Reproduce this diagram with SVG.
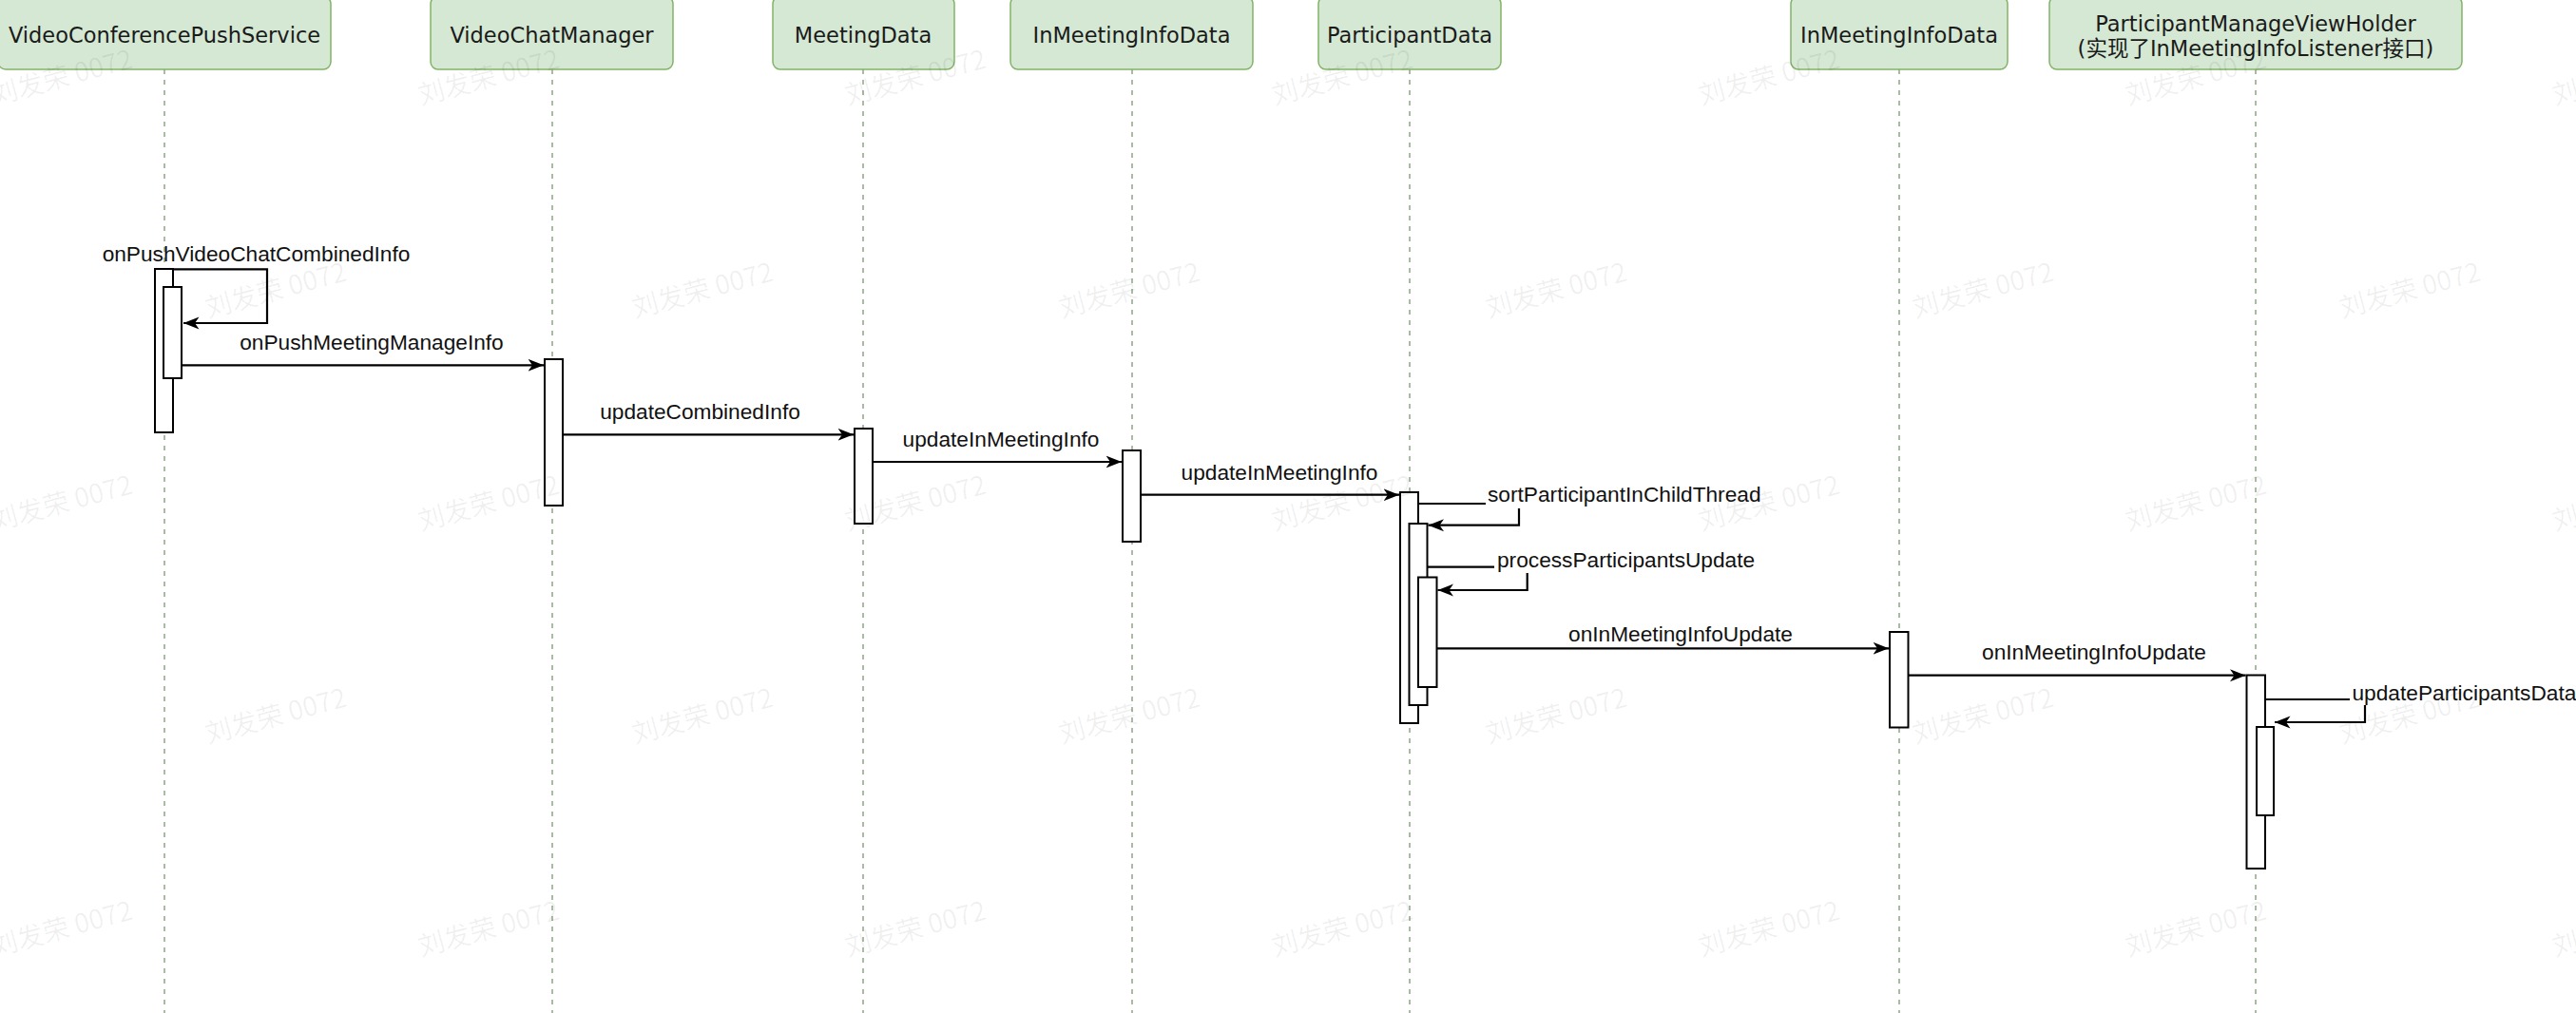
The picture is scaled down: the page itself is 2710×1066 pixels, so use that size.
<svg xmlns="http://www.w3.org/2000/svg" xmlns:xlink="http://www.w3.org/1999/xlink" width="2710" height="1066" viewBox="0 0 2710 1066">
  <style>
    .box { fill: #d5e8d4; stroke: #82b366; stroke-width: 1.5; }
    .title { font-family: "DejaVu Sans", "Noto Sans CJK SC", sans-serif; font-size: 22.5px; fill: #1a1a1a; text-anchor: middle; }
    .life { fill: none; stroke: #8fa585; stroke-width: 1.5; stroke-dasharray: 5 6; }
    .bar { fill: #ffffff; stroke: #000000; stroke-width: 2; }
    .msg { fill: none; stroke: #000000; stroke-width: 2.2; marker-end: url(#arrow); }
    .lbl { font-family: "Liberation Sans", Arial, sans-serif; font-size: 22.7px; fill: #111111; }
    .mid { text-anchor: middle; }
    .lblbg { fill: #ffffff; }
    .wm { font-family: "Noto Sans CJK SC", "Noto Sans", sans-serif; font-size: 28px; fill: #000000; fill-opacity: 0.06; text-anchor: middle; }
  </style>
  <defs>
    <marker id="arrow" markerUnits="userSpaceOnUse" markerWidth="18" markerHeight="14" refX="16.5" refY="7" orient="auto">
      <path d="M0,0.5 L16.5,7 L0,13.5 L4.5,7 Z" fill="#000000"/>
    </marker>
    <text id="wm" class="wm" x="0" y="10">刘发荣 0072</text>
  </defs>

  <rect width="2710" height="1066" fill="#ffffff"/>

  <!-- participants: header box, lifeline, activation bars -->
  <g id="videoConferencePushService">
    <line class="life" x1="173" y1="73" x2="173" y2="1066"/>
    <rect class="box" x="-2" y="-4" width="350" height="77" rx="8"/>
    <text class="title" x="173" y="45">VideoConferencePushService</text>
    <rect class="bar" x="163" y="283" width="19" height="172"/>
    <rect class="bar" x="172" y="302" width="19" height="96"/>
  </g>

  <g id="videoChatManager">
    <line class="life" x1="581" y1="73" x2="581" y2="1066"/>
    <rect class="box" x="453" y="-4" width="255" height="77" rx="8"/>
    <text class="title" x="580.5" y="45">VideoChatManager</text>
    <rect class="bar" x="573" y="378" width="19" height="154"/>
  </g>

  <g id="meetingData">
    <line class="life" x1="908" y1="73" x2="908" y2="1066"/>
    <rect class="box" x="813" y="-4" width="191" height="77" rx="8"/>
    <text class="title" x="908" y="45">MeetingData</text>
    <rect class="bar" x="899" y="451" width="19" height="100"/>
  </g>

  <g id="inMeetingInfoData">
    <line class="life" x1="1191" y1="73" x2="1191" y2="1066"/>
    <rect class="box" x="1063" y="-4" width="255" height="77" rx="8"/>
    <text class="title" x="1190.5" y="45">InMeetingInfoData</text>
    <rect class="bar" x="1181" y="474" width="19" height="96"/>
  </g>

  <g id="participantData">
    <line class="life" x1="1483" y1="73" x2="1483" y2="1066"/>
    <rect class="box" x="1387" y="-4" width="192" height="77" rx="8"/>
    <text class="title" x="1483" y="45">ParticipantData</text>
    <rect class="bar" x="1473" y="518" width="19" height="243"/>
    <rect class="bar" x="1482.5" y="551" width="19" height="191"/>
    <rect class="bar" x="1492" y="607.5" width="19.5" height="115.5"/>
  </g>

  <g id="inMeetingInfoData2">
    <line class="life" x1="1998" y1="73" x2="1998" y2="1066"/>
    <rect class="box" x="1884" y="-4" width="228" height="77" rx="8"/>
    <text class="title" x="1998" y="45">InMeetingInfoData</text>
    <rect class="bar" x="1988" y="665" width="19.5" height="100.5"/>
  </g>

  <g id="participantManageViewHolder">
    <line class="life" x1="2373" y1="73" x2="2373" y2="1066"/>
    <rect class="box" x="2156" y="-4" width="434" height="77" rx="8"/>
    <text class="title" x="2373" y="32.5">ParticipantManageViewHolder</text>
    <text class="title" x="2373" y="59">(实现了InMeetingInfoListener接口)</text>
    <rect class="bar" x="2363.5" y="710.5" width="19.5" height="203.5"/>
    <rect class="bar" x="2374" y="765" width="18" height="93"/>
  </g>

  <!-- messages -->
  <g id="connectors">
    <!-- self call: onPushVideoChatCombinedInfo -->
    <path class="msg" d="M182,283.3 H281 V340 H193"/>
    <text class="lbl mid" x="269.5" y="275">onPushVideoChatCombinedInfo</text>

    <path class="msg" d="M191,384.3 H572"/>
    <text class="lbl mid" x="391" y="368">onPushMeetingManageInfo</text>

    <path class="msg" d="M592,457.3 H898"/>
    <text class="lbl mid" x="736.5" y="440.5">updateCombinedInfo</text>

    <path class="msg" d="M918,486 H1180"/>
    <text class="lbl mid" x="1053" y="470">updateInMeetingInfo</text>

    <path class="msg" d="M1200,520.7 H1472"/>
    <text class="lbl mid" x="1346" y="505">updateInMeetingInfo</text>

    <!-- self call: sortParticipantInChildThread -->
    <path class="msg" d="M1492,530 H1598 V552.7 H1502.5"/>
    <rect class="lblbg" x="1563" y="507" width="296" height="28"/>
    <text class="lbl" x="1565" y="528">sortParticipantInChildThread</text>

    <!-- self call: processParticipantsUpdate -->
    <path class="msg" d="M1501.5,596.7 H1606.7 V621 H1512.5"/>
    <rect class="lblbg" x="1572" y="575" width="281" height="28"/>
    <text class="lbl" x="1575" y="596.7">processParticipantsUpdate</text>

    <path class="msg" d="M1511.5,682.3 H1987"/>
    <text class="lbl mid" x="1768" y="675">onInMeetingInfoUpdate</text>

    <path class="msg" d="M2007.5,710.7 H2362.5"/>
    <text class="lbl mid" x="2203" y="694">onInMeetingInfoUpdate</text>

    <!-- self call: updateParticipantsData -->
    <path class="msg" d="M2383,736 H2488 V760 H2393"/>
    <rect class="lblbg" x="2472" y="715" width="240" height="27"/>
    <text class="lbl" x="2474.5" y="736.5">updateParticipantsData</text>
  </g>

  <!-- background watermark pattern -->
  <g id="watermark">
    <use xlink:href="#wm" transform="translate(65,81) rotate(-15)"/>
    <use xlink:href="#wm" transform="translate(514,81) rotate(-15)"/>
    <use xlink:href="#wm" transform="translate(963,81) rotate(-15)"/>
    <use xlink:href="#wm" transform="translate(1412,81) rotate(-15)"/>
    <use xlink:href="#wm" transform="translate(1861,81) rotate(-15)"/>
    <use xlink:href="#wm" transform="translate(2310,81) rotate(-15)"/>
    <use xlink:href="#wm" transform="translate(2759,81) rotate(-15)"/>

    <use xlink:href="#wm" transform="translate(290,305) rotate(-15)"/>
    <use xlink:href="#wm" transform="translate(739,305) rotate(-15)"/>
    <use xlink:href="#wm" transform="translate(1188,305) rotate(-15)"/>
    <use xlink:href="#wm" transform="translate(1637,305) rotate(-15)"/>
    <use xlink:href="#wm" transform="translate(2086,305) rotate(-15)"/>
    <use xlink:href="#wm" transform="translate(2535,305) rotate(-15)"/>

    <use xlink:href="#wm" transform="translate(65,529) rotate(-15)"/>
    <use xlink:href="#wm" transform="translate(514,529) rotate(-15)"/>
    <use xlink:href="#wm" transform="translate(963,529) rotate(-15)"/>
    <use xlink:href="#wm" transform="translate(1412,529) rotate(-15)"/>
    <use xlink:href="#wm" transform="translate(1861,529) rotate(-15)"/>
    <use xlink:href="#wm" transform="translate(2310,529) rotate(-15)"/>
    <use xlink:href="#wm" transform="translate(2759,529) rotate(-15)"/>

    <use xlink:href="#wm" transform="translate(290,753) rotate(-15)"/>
    <use xlink:href="#wm" transform="translate(739,753) rotate(-15)"/>
    <use xlink:href="#wm" transform="translate(1188,753) rotate(-15)"/>
    <use xlink:href="#wm" transform="translate(1637,753) rotate(-15)"/>
    <use xlink:href="#wm" transform="translate(2086,753) rotate(-15)"/>
    <use xlink:href="#wm" transform="translate(2535,753) rotate(-15)"/>

    <use xlink:href="#wm" transform="translate(65,977) rotate(-15)"/>
    <use xlink:href="#wm" transform="translate(514,977) rotate(-15)"/>
    <use xlink:href="#wm" transform="translate(963,977) rotate(-15)"/>
    <use xlink:href="#wm" transform="translate(1412,977) rotate(-15)"/>
    <use xlink:href="#wm" transform="translate(1861,977) rotate(-15)"/>
    <use xlink:href="#wm" transform="translate(2310,977) rotate(-15)"/>
    <use xlink:href="#wm" transform="translate(2759,977) rotate(-15)"/>
  </g>
</svg>
